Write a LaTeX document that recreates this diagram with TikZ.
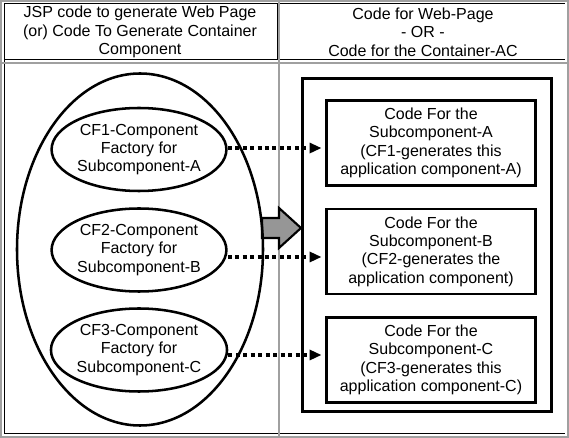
\documentclass[tikz,border=0pt]{standalone}
\usepackage{fontspec}
\setmainfont{Liberation Sans}
\usetikzlibrary{shapes.geometric,arrows.meta}
\definecolor{framegray}{RGB}{160,160,160}
\definecolor{arrowgray}{RGB}{150,150,150}
\begin{document}
\begin{tikzpicture}[x=0.75pt,y=-0.75pt,
  txt/.style={font=\fontsize{12}{13.8}\selectfont, align=center, inner sep=0pt},
  cf/.style={ellipse, draw, line width=1.9pt, minimum width=124.5pt, minimum height=62.25pt, inner sep=0pt, txt},
  codebox/.style={draw, line width=2.2pt, minimum width=156.75pt, minimum height=63.75pt, inner sep=0pt, txt},
  dotarrow/.style={line width=2.4pt, dash pattern=on 3pt off 2.6pt, -{Triangle[length=9pt,width=7.5pt]}},
  grayline/.style={draw=framegray, line width=1.6pt},
  blackline/.style={draw=black, line width=0.75pt}
]
\useasboundingbox (0,0) rectangle (569,438);
% table frame
\draw[grayline] (1,1) rectangle (568,437);
\draw[blackline] (4,4) -- (565,4);
\draw[blackline] (4,4) -- (4,434);
\draw[blackline] (4,433.5) -- (565,433.5);
\draw[blackline] (4,60) -- (565,60);
\draw[grayline] (2,63) -- (567,63);
\draw[grayline] (279,2) -- (279,436);
\draw[blackline] (277,4) -- (277,60);
% headers
\node[txt] (h1) at (140,32) {JSP code to generate Web Page\\(or) Code To Generate Container\\Component};
\node[txt] (h2) at (423,32) {Code for Web-Page\\- OR -\\Code for the Container-AC};
% gray arrow
\filldraw[fill=arrowgray, draw=black, line width=1.6pt] (262,218) -- (279,218) -- (279,208) -- (301,228) -- (279,248) -- (279,238) -- (262,238) -- cycle;
% big ellipse
\node[ellipse, draw, line width=1.9pt, minimum width=184.5pt, minimum height=264pt, inner sep=0pt] (big) at (140,249.5) {};
% factories
\node[cf] (e1) at (139,149.5) {CF1-Component\\Factory for\\Subcomponent-A};
\node[cf] (e2) at (139,250) {CF2-Component\\Factory for\\Subcomponent-B};
\node[cf] (e3) at (139,350) {CF3-Component\\Factory for\\Subcomponent-C};
% container
\node[draw, line width=2.2pt, minimum width=186.75pt, minimum height=249.75pt, inner sep=0pt] (cont) at (427,245) {};
% code boxes
\node[codebox] (b1) at (431,143) {Code For the\\Subcomponent-A\\(CF1-generates this\\application component-A)};
\node[codebox] (b2) at (431,251.5) {Code For the\\Subcomponent-B\\(CF2-generates the\\application component)};
\node[codebox] (b3) at (431,360) {Code For the\\Subcomponent-C\\(CF3-generates this\\application component-C)};
% dotted arrows
\coordinate (s1) at ([yshift=1.1pt]e1.east);
\coordinate (s2) at ([yshift=-5.25pt]e2.east);
\coordinate (s3) at ([yshift=-3.75pt]e3.east);
\path (s1 -| b1.west) coordinate (t1);
\path (s2 -| b2.west) coordinate (t2);
\path (s3 -| b3.west) coordinate (t3);
\draw[dotarrow] (s1) -- ([xshift=-2.6pt]t1);
\draw[dotarrow] (s2) -- ([xshift=-2.6pt]t2);
\draw[dotarrow] (s3) -- ([xshift=-2.6pt]t3);
\end{tikzpicture}
\end{document}
